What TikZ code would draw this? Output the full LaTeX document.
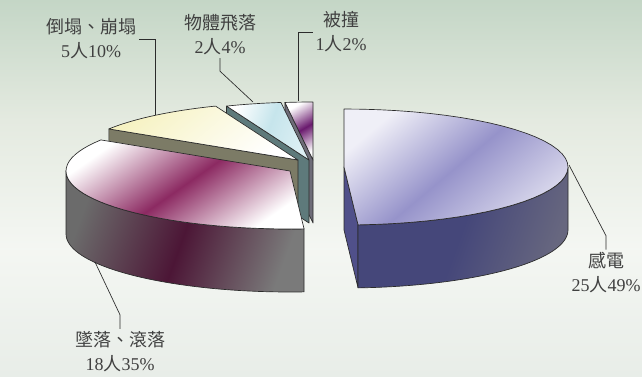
\documentclass[tikz,border=0pt]{standalone}
\usepackage{fontspec}
\setmainfont{Liberation Serif}
\newfontfamily\cjk{Noto Sans CJK TC}
\definecolor{bgtop}{HTML}{C4D6C6}
\definecolor{bgmid}{HTML}{E4EAE0}
\definecolor{bgbot}{HTML}{E8EDE8}
\definecolor{pieline}{HTML}{2B2B2B}
\definecolor{textgray}{HTML}{404040}
\definecolor{lav}{HTML}{9693CA}
\definecolor{gdwallL}{HTML}{45477A}
\definecolor{gdwallR}{HTML}{67677F}
\definecolor{gdcut}{HTML}{50508A}
\definecolor{maroon}{HTML}{8C2A62}
\definecolor{zlwallL}{HTML}{6B6B6B}
\definecolor{zlwallM}{HTML}{4C1636}
\definecolor{zlwallR}{HTML}{7A7A7A}
\definecolor{yellowtop}{HTML}{F6F2C2}
\definecolor{dtside}{HTML}{7C7B66}
\definecolor{cyantop}{HTML}{C6E5EC}
\definecolor{wtside}{HTML}{5E7A7B}
\definecolor{bzpurple}{HTML}{6A1A6E}
\definecolor{bzside}{HTML}{6E6C78}
\tikzset{
  edge/.style={draw=pieline, line width=0.5pt, line join=round},
  leader/.style={draw=pieline, line width=0.5pt},
  lbl/.style={text=textgray, align=center, inner sep=2pt,
    font=\fontsize{13.5}{18}\selectfont}
}
% slice pieces, centre of the slice at (0,0), angle 0 = right, 90 = front
\newcommand{\pietop}[2]{(0,0) -- plot[domain=#1:#2,samples=40] ({224*cos(\x)},{58*sin(\x)}) -- cycle}
\newcommand{\piewall}[2]{plot[domain=#1:#2,samples=40] ({224*cos(\x)},{58*sin(\x)})
  -- plot[domain=#2:#1,samples=40] ({224*cos(\x)},{58*sin(\x)+63}) -- cycle}
\newcommand{\piecut}[1]{(0,0) -- ({224*cos(#1)},{58*sin(#1)}) -- ++(0,63) -- (0,63) -- cycle}
\begin{document}
\begin{tikzpicture}[x=0.75pt,y=-0.75pt]
    \useasboundingbox (0,0) rectangle (642,376);
    \shade[top color=bgtop, bottom color=bgmid] (0,0) rectangle (642,120);
    \shade[top color=bgmid, bottom color=bgbot, middle color=white!60!bgmid] (0,120) rectangle (642,376);
    % back slices first
    \begin{scope}[shift={(313,160)}]
        \fill[edge, fill=bzside] \piecut{262.8};
        \shade[edge, top color=white, bottom color=white, middle color=bzpurple, shading angle=30] \pietop{262.8}{270};
    \end{scope}
    \begin{scope}[shift={(309,160)}]
        \fill[edge, fill=wtside] \piecut{248.4};
        \shade[edge, top color=white, bottom color=white!40!cyantop, middle color=cyantop, shading angle=70] \pietop{248.4}{262.8};
    \end{scope}
    \begin{scope}[shift={(298,160)}]
        \fill[edge, fill=dtside] \piecut{212.4};
        \shade[edge, top color=yellowtop, bottom color=white, shading angle=40] \pietop{212.4}{248.4};
    \end{scope}
    \begin{scope}[shift={(290,171)}]
        \shade[edge, left color=zlwallL, right color=zlwallR, middle color=zlwallM, shading angle=70] \piewall{86.4}{180};
        \shade[edge, top color=white, bottom color=white, middle color=maroon, shading angle=35] \pietop{86.4}{212.4};
    \end{scope}
    \begin{scope}[shift={(344,167)}]
        \fill[edge, fill=gdcut] \piecut{86.4};
        \shade[edge, left color=gdwallL, right color=gdwallR, middle color=gdwallL, shading angle=70] \piewall{0}{86.4};
        \shade[edge, top color=lav!15, bottom color=lav!35, middle color=lav, shading angle=40] \pietop{-90}{86.4};
    \end{scope}
    % labels and leaders
    \node[lbl] (dt) at (91,39) {{\cjk 倒塌、崩塌}\\5{\cjk 人}10\%};
    \node[lbl] (wt) at (220,35) {{\cjk 物體飛落}\\2{\cjk 人}4\%};
    \node[lbl] (bz) at (341,32) {{\cjk 被撞}\\1{\cjk 人}2\%};
    \node[lbl] (zl) at (120,352) {{\cjk 墜落、滾落}\\18{\cjk 人}35\%};
    \node[lbl] (gd) at (606,273) {{\cjk 感電}\\25{\cjk 人}49\%};
    \coordinate (dtTip) at (155,115);
    \coordinate (wtTip) at (253,102);
    \coordinate (bzTip) at (298,101);
    \coordinate (zlTip) at (95,262);
    \coordinate (gdTip) at (569,165);
    \draw[leader] (dt.east) -| (dtTip);
    \draw[leader] (wt.south) -- ++(0,13) -- (wtTip);
    \draw[leader] (bz.west) -| (bzTip);
    \draw[leader] (zl.north) -- ++(0,-14) -- (zlTip);
    \draw[leader] (gd.north) -- ++(0,-14) -- (gdTip);
\end{tikzpicture}
\end{document}
